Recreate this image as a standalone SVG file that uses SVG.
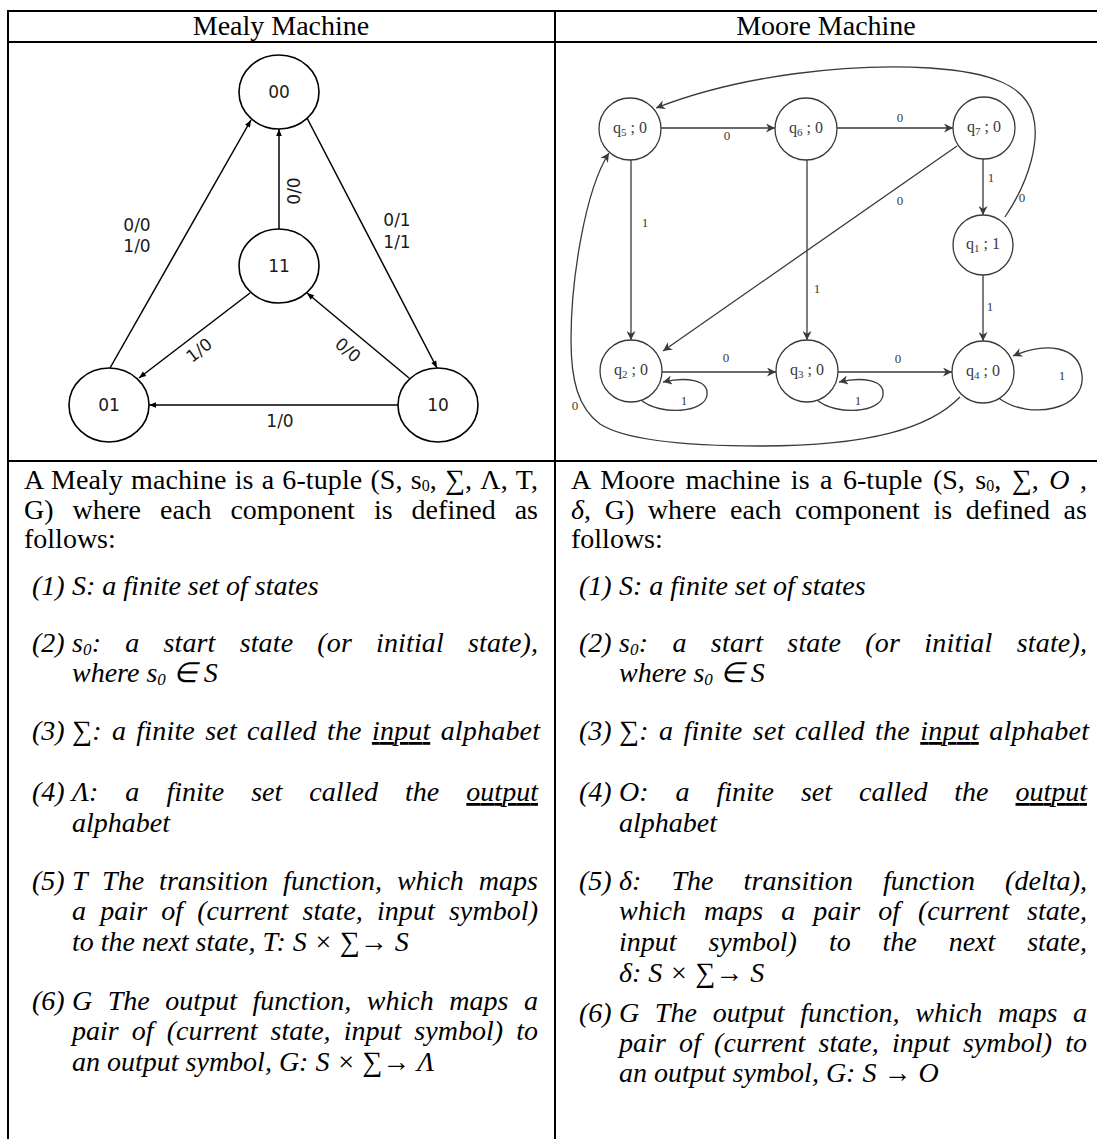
<svg xmlns="http://www.w3.org/2000/svg" width="1097" height="1139" viewBox="0 0 1097 1139">
<style>
.grid{stroke:#000;stroke-width:2;fill:none}
.hdr{font-family:"Liberation Serif",serif;font-size:28px;fill:#000;text-anchor:middle}
.body{font-family:"Liberation Serif",serif;font-size:28px;fill:#000}
.it{font-style:italic}
.mnode{fill:#fff;stroke:#000;stroke-width:1.6}
.mlab{font-family:"DejaVu Sans","Liberation Sans",sans-serif;font-size:17px;fill:#1a1a1a;text-anchor:middle}
.medge{stroke:#000;stroke-width:1.5;fill:none;marker-end:url(#ma)}
.qnode{fill:#fff;stroke:#3a3a3a;stroke-width:1.3}
.qlab{font-family:"Liberation Serif",serif;font-size:16px;fill:#3a3a3a;text-anchor:middle}
.qedge{stroke:#3a3a3a;stroke-width:1.3;fill:none;marker-end:url(#qa)}
.qe{font-family:"Liberation Serif",serif;font-size:13px;fill:#3a3a3a;text-anchor:middle}
</style>
<defs>
<marker id="ma" viewBox="0 0 10 10" refX="10" refY="5" markerWidth="8" markerHeight="7" markerUnits="userSpaceOnUse" orient="auto"><path d="M0,1 L10,5 L0,9 z" fill="#000"/></marker>
<marker id="qa" viewBox="0 0 10 10" refX="10" refY="5" markerWidth="11" markerHeight="9" markerUnits="userSpaceOnUse" orient="auto"><path d="M0,0 L10,5 L0,10 L3,5 z" fill="#3a3a3a"/></marker>
</defs>
<rect width="1097" height="1139" fill="#fff"/>

<g id="table">
<line class="grid" x1="8" y1="11" x2="1097" y2="11"/>
<line class="grid" x1="8" y1="42" x2="1097" y2="42"/>
<line class="grid" x1="8" y1="461" x2="1097" y2="461"/>
<line class="grid" x1="8" y1="10" x2="8" y2="1139"/>
<line class="grid" x1="555" y1="10" x2="555" y2="1139"/>
<text class="hdr" x="281" y="35">Mealy Machine</text>
<text class="hdr" x="826" y="35">Moore Machine</text>
</g>

<!-- Mealy machine -->
<g id="mealy-connectors">
<line class="medge" x1="110" y1="368" x2="251" y2="120"/>
<line class="medge" x1="279" y1="229" x2="279" y2="129"/>
<line class="medge" x1="307" y1="118" x2="437" y2="368"/>
<line class="medge" x1="250" y1="293" x2="139" y2="378"/>
<line class="medge" x1="409" y1="378" x2="307" y2="293"/>
<line class="medge" x1="398" y1="405" x2="149" y2="405"/>
<text class="mlab" x="137" y="231">0/0</text>
<text class="mlab" x="137" y="252">1/0</text>
<text class="mlab" x="397" y="226">0/1</text>
<text class="mlab" x="397" y="248">1/1</text>
<text class="mlab" transform="translate(294,191) rotate(-90)" y="6">0/0</text>
<text class="mlab" transform="translate(199,350) rotate(-38)" y="6">1/0</text>
<text class="mlab" transform="translate(348,350) rotate(40)" y="6">0/0</text>
<text class="mlab" x="280" y="427">1/0</text>
</g>
<g id="m00"><ellipse class="mnode" cx="279" cy="92" rx="40" ry="37"/><text class="mlab" x="279" y="98">00</text></g>
<g id="m11"><ellipse class="mnode" cx="279" cy="266" rx="40" ry="37"/><text class="mlab" x="279" y="272">11</text></g>
<g id="m01"><ellipse class="mnode" cx="109" cy="405" rx="40" ry="37"/><text class="mlab" x="109" y="411">01</text></g>
<g id="m10"><ellipse class="mnode" cx="438" cy="405" rx="40" ry="37"/><text class="mlab" x="438" y="411">10</text></g>

<!-- Moore machine -->
<g id="moore-connectors">
<line class="qedge" x1="661" y1="128" x2="775" y2="128"/>
<line class="qedge" x1="837" y1="128" x2="953" y2="128"/>
<line class="qedge" x1="631" y1="160" x2="631" y2="340"/>
<line class="qedge" x1="807" y1="160" x2="807" y2="340"/>
<line class="qedge" x1="957" y1="146" x2="663" y2="351"/>
<line class="qedge" x1="983" y1="159" x2="983" y2="215"/>
<line class="qedge" x1="983" y1="275" x2="983" y2="341"/>
<path class="qedge" d="M1005,217 C1030,180 1040,140 1033,115 C1025,85 990,72 930,68 C850,63 740,75 656,108"/>
<line class="qedge" x1="662" y1="372" x2="776" y2="372"/>
<line class="qedge" x1="838" y1="372" x2="952" y2="372"/>
<path class="qedge" d="M641,400 C660,416 705,413 707,395 C709,379 685,377 663,382"/>
<path class="qedge" d="M817,400 C836,416 881,413 883,395 C885,379 861,377 839,382"/>
<path class="qedge" d="M1000,399 C1030,420 1086,410 1082,375 C1079,345 1045,342 1013,356"/>
<path class="qedge" d="M960,397 C930,428 870,446 760,446 C680,446 625,440 600,424 C578,408 571,380 571,340 C571,280 585,190 609,153"/>
<text class="qe" x="727" y="140">0</text>
<text class="qe" x="900" y="122">0</text>
<text class="qe" x="645" y="227">1</text>
<text class="qe" x="817" y="293">1</text>
<text class="qe" x="900" y="205">0</text>
<text class="qe" x="991" y="182">1</text>
<text class="qe" x="1022" y="202">0</text>
<text class="qe" x="990" y="311">1</text>
<text class="qe" x="726" y="362">0</text>
<text class="qe" x="898" y="363">0</text>
<text class="qe" x="684" y="405">1</text>
<text class="qe" x="858" y="405">1</text>
<text class="qe" x="1062" y="380">1</text>
<text class="qe" x="575" y="410">0</text>
</g>
<g id="q5"><circle class="qnode" cx="630" cy="129" r="31"/><text class="qlab" x="630" y="133">q<tspan font-size="11" dy="3">5</tspan><tspan dy="-3"> ; 0</tspan></text></g>
<g id="q6"><circle class="qnode" cx="806" cy="129" r="31"/><text class="qlab" x="806" y="133">q<tspan font-size="11" dy="3">6</tspan><tspan dy="-3"> ; 0</tspan></text></g>
<g id="q7"><circle class="qnode" cx="984" cy="128" r="31"/><text class="qlab" x="984" y="132">q<tspan font-size="11" dy="3">7</tspan><tspan dy="-3"> ; 0</tspan></text></g>
<g id="q1"><circle class="qnode" cx="983" cy="245" r="30"/><text class="qlab" x="983" y="249">q<tspan font-size="11" dy="3">1</tspan><tspan dy="-3"> ; 1</tspan></text></g>
<g id="q2"><circle class="qnode" cx="631" cy="371" r="31"/><text class="qlab" x="631" y="375">q<tspan font-size="11" dy="3">2</tspan><tspan dy="-3"> ; 0</tspan></text></g>
<g id="q3"><circle class="qnode" cx="807" cy="371" r="31"/><text class="qlab" x="807" y="375">q<tspan font-size="11" dy="3">3</tspan><tspan dy="-3"> ; 0</tspan></text></g>
<g id="q4"><circle class="qnode" cx="983" cy="372" r="31"/><text class="qlab" x="983" y="376">q<tspan font-size="11" dy="3">4</tspan><tspan dy="-3"> ; 0</tspan></text></g>

<!-- Mealy definition -->
<g id="mealy-text" class="body">
<text x="24" y="489" word-spacing="1" textLength="514" lengthAdjust="spacing">A Mealy machine is a 6-tuple (S, s<tspan font-size="16" dy="2">0</tspan><tspan dy="-2">, ∑, Λ, T,</tspan></text>
<text x="24" y="519" word-spacing="12" textLength="514" lengthAdjust="spacing">G) where each component is defined as</text>
<text x="24" y="548">follows:</text>
<g class="it">
<text x="32" y="595">(1)</text><text x="72" y="595">S: a finite set of states</text>
<text x="32" y="652">(2)</text><text x="72" y="652" word-spacing="17" textLength="466" lengthAdjust="spacing">s<tspan font-size="17" dy="3">0</tspan><tspan dy="-3">: a start state (or initial state),</tspan></text>
<text x="72" y="682">where s<tspan font-size="17" dy="3">0</tspan><tspan dy="-3"> ∈ S</tspan></text>
<text x="32" y="740">(3)</text><text x="72" y="740" word-spacing="3" textLength="468" lengthAdjust="spacing">∑: a finite set called the <tspan text-decoration="underline">input</tspan> alphabet</text>
<text x="32" y="801">(4)</text><text x="72" y="801" word-spacing="20" textLength="466" lengthAdjust="spacing">Λ: a finite set called the <tspan text-decoration="underline">output</tspan></text>
<text x="72" y="832">alphabet</text>
<text x="32" y="890">(5)</text><text x="72" y="890" word-spacing="8" textLength="466" lengthAdjust="spacing">T The transition function, which maps</text>
<text x="72" y="920" word-spacing="7" textLength="466" lengthAdjust="spacing">a pair of (current state, input symbol)</text>
<text x="72" y="951">to the next state, T: S × ∑→ S</text>
<text x="32" y="1010">(6)</text><text x="72" y="1010" word-spacing="8.5" textLength="466" lengthAdjust="spacing">G The output function, which maps a</text>
<text x="72" y="1040" word-spacing="6" textLength="466" lengthAdjust="spacing">pair of (current state, input symbol) to</text>
<text x="72" y="1071">an output symbol, G: S × ∑→ Λ</text>
</g>
</g>

<!-- Moore definition -->
<g id="moore-text" class="body">
<text x="571" y="489" word-spacing="3.5" textLength="516" lengthAdjust="spacing">A Moore machine is a 6-tuple (S, s<tspan font-size="16" dy="2">0</tspan><tspan dy="-2">, ∑, </tspan><tspan class="it">O</tspan> ,</text>
<text x="571" y="519" word-spacing="6.5" textLength="516" lengthAdjust="spacing"><tspan class="it">δ</tspan>, G) where each component is defined as</text>
<text x="571" y="548">follows:</text>
<g class="it">
<text x="579" y="595">(1)</text><text x="619" y="595">S: a finite set of states</text>
<text x="579" y="652">(2)</text><text x="619" y="652" word-spacing="17" textLength="468" lengthAdjust="spacing">s<tspan font-size="17" dy="3">0</tspan><tspan dy="-3">: a start state (or initial state),</tspan></text>
<text x="619" y="682">where s<tspan font-size="17" dy="3">0</tspan><tspan dy="-3"> ∈ S</tspan></text>
<text x="579" y="740">(3)</text><text x="619" y="740" word-spacing="3" textLength="470" lengthAdjust="spacing">∑: a finite set called the <tspan text-decoration="underline">input</tspan> alphabet</text>
<text x="579" y="801">(4)</text><text x="619" y="801" word-spacing="20" textLength="468" lengthAdjust="spacing">O: a finite set called the <tspan text-decoration="underline">output</tspan></text>
<text x="619" y="832">alphabet</text>
<text x="579" y="890">(5)</text><text x="619" y="890" word-spacing="23" textLength="468" lengthAdjust="spacing">δ: The transition function (delta),</text>
<text x="619" y="920" word-spacing="11" textLength="468" lengthAdjust="spacing">which maps a pair of (current state,</text>
<text x="619" y="951" word-spacing="25" textLength="468" lengthAdjust="spacing">input symbol) to the next state,</text>
<text x="619" y="982">δ: S × ∑→ S</text>
<text x="579" y="1022">(6)</text><text x="619" y="1022" word-spacing="8.5" textLength="468" lengthAdjust="spacing">G The output function, which maps a</text>
<text x="619" y="1052" word-spacing="6" textLength="468" lengthAdjust="spacing">pair of (current state, input symbol) to</text>
<text x="619" y="1082">an output symbol, G: S → O</text>
</g>
</g>
</svg>
